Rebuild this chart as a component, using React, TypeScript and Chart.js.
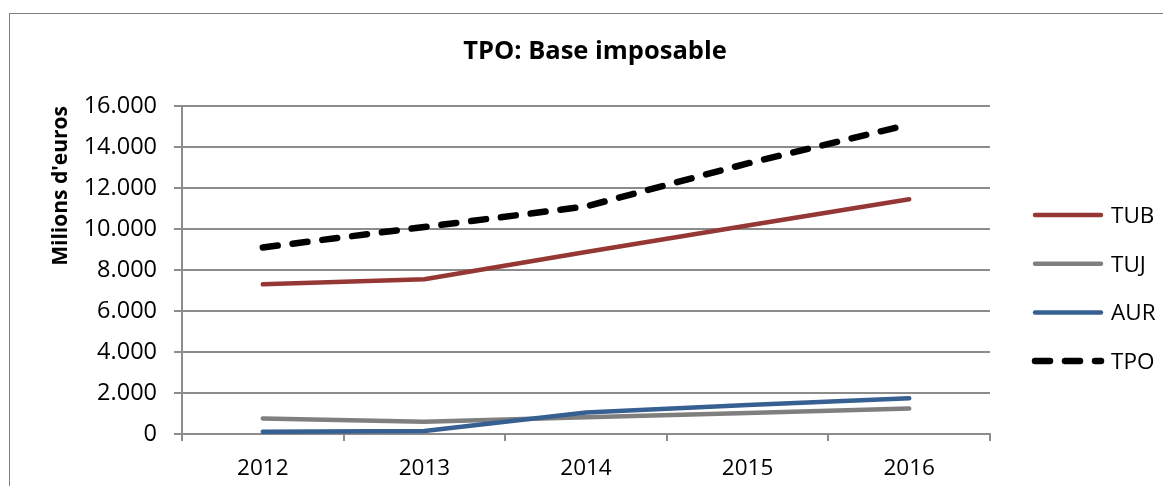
import { useEffect, useRef } from 'react';
import { Chart, registerables } from 'chart.js';

Chart.register(...registerables);

const categories = ['2012', '2013', '2014', '2015', '2016'];
const seriesNames = ['TUB', 'TUJ', 'AUR', 'TPO'];
const tubValues = [7300, 7550, 8880, 10170, 11450];
const tujValues = [760, 600, 820, 1030, 1240];
const aurValues = [110, 150, 1050, 1420, 1740];
const tpoValues = [9100, 10100, 11100, 13200, 15100];
const yTickValues = [0, 2000, 4000, 6000, 8000, 10000, 12000, 14000, 16000];

const titleText = 'TPO: Base imposable';
const yTitleText = "Milions d'euros";

const FONT = "'Open Sans', 'Noto Sans', sans-serif";
const GRID = '#8c8c8c';

const formatThousands = (v: number) =>
  String(v).replace(/\B(?=(\d{3})+(?!\d))/g, '.');

const sideLegend = {
  id: 'sideLegend',
  afterDraw(chart: any, _args: any, opts: any) {
    const ctx = chart.ctx;
    chart.data.datasets.forEach((ds: any, i: number) => {
      const y = opts.y0 + i * opts.dy;
      ctx.save();
      ctx.strokeStyle = ds.borderColor;
      ctx.lineWidth = ds.borderWidth;
      ctx.lineCap = 'round';
      ctx.setLineDash(ds.borderDash || []);
      ctx.beginPath();
      ctx.moveTo(opts.x0, y);
      ctx.lineTo(opts.x1, y);
      ctx.stroke();
      ctx.setLineDash([]);
      ctx.fillStyle = '#000';
      ctx.font = `${opts.fontSize}px ${FONT}`;
      ctx.textBaseline = 'middle';
      ctx.textAlign = 'left';
      ctx.fillText(ds.label, opts.textX, y + 1.5);
      ctx.restore();
    });
  },
};

export default function App() {
  const canvasRef = useRef<HTMLCanvasElement | null>(null);

  useEffect(() => {
    const canvas = canvasRef.current;
    if (!canvas) return;
    const chart = new Chart(canvas, {
      type: 'line',
      data: {
        labels: categories,
        datasets: [
          {
            label: seriesNames[0],
            data: tubValues,
            borderColor: '#953735',
            backgroundColor: '#953735',
            borderWidth: 4.5,
            order: 0,
          },
          {
            label: seriesNames[1],
            data: tujValues,
            borderColor: '#7f7f7f',
            backgroundColor: '#7f7f7f',
            borderWidth: 4.5,
            order: 1,
          },
          {
            label: seriesNames[2],
            data: aurValues,
            borderColor: '#376092',
            backgroundColor: '#376092',
            borderWidth: 4.5,
            order: 0,
          },
          {
            label: seriesNames[3],
            data: tpoValues,
            borderColor: '#000000',
            backgroundColor: '#000000',
            borderWidth: 6.5,
            borderDash: [15, 15],
            order: 0,
          },
        ],
      },
      options: {
        responsive: false,
        maintainAspectRatio: false,
        animation: false,
        layout: { padding: { left: 11, right: 0, top: 0, bottom: 0 } },
        elements: {
          point: { radius: 0, hoverRadius: 0 },
          line: { tension: 0, borderCapStyle: 'round', borderJoinStyle: 'round', fill: false },
        },
        plugins: {
          legend: { display: false },
          tooltip: { enabled: false },
          title: {
            display: true,
            text: titleText,
            color: '#000',
            font: { family: FONT, size: 25.5, weight: 'bold', lineHeight: 1.2 },
            padding: { top: 28.5, bottom: 38.9 },
          },
          sideLegend: { x0: 1027, x1: 1093, textX: 1103, y0: 207, dy: 48.7, fontSize: 22.5 },
        } as any,
        scales: {
          x: {
            type: 'category',
            offset: true,
            afterFit: (s: any) => {
              s.height = 52;
            },
            grid: {
              display: true,
              drawOnChartArea: false,
              drawTicks: true,
              tickLength: 7,
              color: GRID,
              lineWidth: 2,
              offset: true,
            },
            border: { display: true, color: GRID, width: 2 },
            ticks: {
              color: '#000',
              padding: 14,
              maxRotation: 0,
              font: { family: FONT, size: 22.5 },
            },
          },
          y: {
            type: 'linear',
            position: 'left',
            min: 0,
            max: 16000,
            afterFit: (s: any) => {
              s.width = 163;
            },
            afterBuildTicks: (s: any) => {
              s.ticks = yTickValues.map((v) => ({ value: v }));
            },
            grid: {
              color: GRID,
              lineWidth: 2,
              drawTicks: true,
              tickLength: 8,
            },
            border: { display: true, color: GRID, width: 2 },
            ticks: {
              color: '#000',
              padding: 17,
              font: { family: FONT, size: 23.5 },
              callback: (v: any) => formatThousands(Number(v)),
            },
            title: {
              display: true,
              text: yTitleText,
              color: '#000',
              align: 'end',
              font: { family: FONT, size: 21, weight: 'bold', lineHeight: 1.2 },
              padding: { top: 29.4, bottom: 0 },
            },
          },
          legendSpace: {
            type: 'linear',
            position: 'right',
            display: true,
            grid: { display: false, drawTicks: false },
            border: { display: false },
            ticks: { display: false },
            afterFit: (s: any) => {
              s.width = 181;
            },
          },
        },
      },
      plugins: [sideLegend],
    } as any);
    return () => chart.destroy();
  }, []);

  return (
    <div
      style={{
        position: 'relative',
        width: 1163,
        height: 478,
        overflow: 'hidden',
        background: '#ffffff',
      }}
    >
      <div
        style={{
          position: 'absolute',
          left: 1,
          top: 5,
          width: 1400,
          height: 800,
          border: '1px solid #7f7f7f',
          boxSizing: 'border-box',
        }}
      />
      <canvas
        ref={canvasRef}
        width={1163}
        height={478}
        style={{ position: 'absolute', left: 0, top: 0 }}
      />
    </div>
  );
}
